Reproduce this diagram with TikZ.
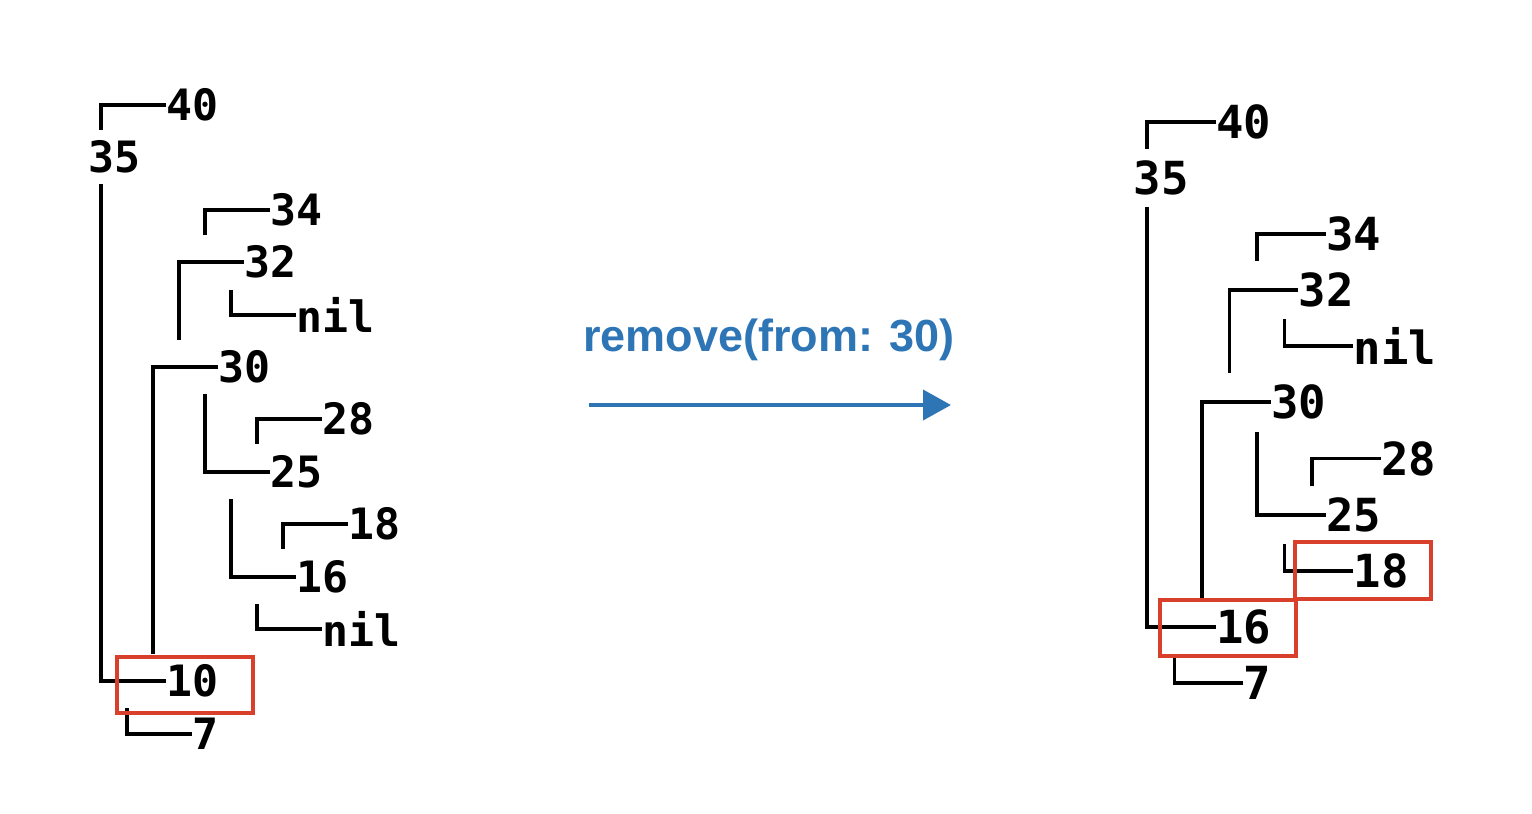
\documentclass[tikz,border=0pt]{standalone}
\usepackage{fontspec}
\setmonofont{DejaVu Sans Mono}
\setsansfont{Liberation Sans}
\usetikzlibrary{arrows.meta}
\definecolor{blu}{RGB}{46,117,182}
\definecolor{rosso}{RGB}{217,64,43}
\begin{document}
\begin{tikzpicture}[x=0.5pt, y=-0.5pt,
  chiave/.style={anchor=west, inner sep=0pt, font=\ttfamily\bfseries\fontsize{21.6}{24}\selectfont},
  chiaveb/.style={anchor=west, inner sep=0pt, font=\ttfamily\bfseries\fontsize{22.8}{26}\selectfont},
  ramo/.style={line width=1.8pt},
  evidenzia/.style={draw=rosso, line width=2.4pt}]
\useasboundingbox (0,0) rectangle (1532,814);
% albero prima
\node[chiave] (a40) at (166,105) {40};
\node[chiave] (a35) at (88,157) {35};
\node[chiave] (a34) at (270,210) {34};
\node[chiave] (a32) at (244,262) {32};
\node[chiave] (anil1) at (296,315) {nil};
\node[chiave] (a30) at (218,367) {30};
\node[chiave] (a28) at (322,419) {28};
\node[chiave] (a25) at (270,472) {25};
\node[chiave] (a18) at (348,524) {18};
\node[chiave] (a16) at (296,577) {16};
\node[chiave] (anil2) at (322,629) {nil};
\node[chiave] (a10) at (166,681) {10};
\node[chiave] (a7) at (192,734) {7};
% rami prima
\coordinate (ta40) at (101,130);
\coordinate (ta34) at (205,235);
\coordinate (ta32) at (179,340);
\coordinate (tanil1) at (231,290);
\coordinate (ta30) at (153,654);
\coordinate (ta28) at (257,444);
\coordinate (ta25) at (205,394);
\coordinate (ta18) at (283,549);
\coordinate (ta16) at (231,499);
\coordinate (tanil2) at (257,604);
\coordinate (ta10) at (101,184);
\coordinate (ta7) at (127,708);
\draw[ramo] (a40.west) -| (ta40);
\draw[ramo] (a34.west) -| (ta34);
\draw[ramo] (a32.west) -| (ta32);
\draw[ramo] (anil1.west) -| (tanil1);
\draw[ramo] (a30.west) -| (ta30);
\draw[ramo] (a28.west) -| (ta28);
\draw[ramo] (a25.west) -| (ta25);
\draw[ramo] (a18.west) -| (ta18);
\draw[ramo] (a16.west) -| (ta16);
\draw[ramo] (anil2.west) -| (tanil2);
\draw[ramo] (a10.west) -| (ta10);
\draw[ramo] (a7.west) -| (ta7);
\draw[evidenzia] (117,657) rectangle (253,713);
% operazione
\node[font=\sffamily\bfseries\fontsize{22.5}{27}\selectfont, text=blu] (op) at (769,340) {remove(from: 30)};
\coordinate (f0) at (589,405);
\coordinate (f1) at (951,405);
\draw[-{Triangle[length=14pt,width=15pt]}, blu, line width=2pt] (f0) -- (f1);
% albero dopo
\node[chiaveb] (b40) at (1215.75,122) {40};
\node[chiaveb] (b35) at (1133.25,178) {35};
\node[chiaveb] (b34) at (1325.75,234) {34};
\node[chiaveb] (b32) at (1298.25,290) {32};
\node[chiaveb] (bnil) at (1353.25,346) {nil};
\node[chiaveb] (b30) at (1270.75,402) {30};
\node[chiaveb] (b28) at (1380.75,458.6) {28};
\node[chiaveb] (b25) at (1325.75,515) {25};
\node[chiaveb] (b18) at (1353.25,571) {18};
\node[chiaveb] (b16) at (1215.75,627) {16};
\node[chiaveb] (b7) at (1243.25,683) {7};
% rami dopo
\coordinate (tb40) at (1147,149);
\coordinate (tb34) at (1257,261);
\coordinate (tb32) at (1229.5,373);
\coordinate (tbnil) at (1284.5,319);
\coordinate (tb30) at (1202,598);
\coordinate (tb28) at (1312,486);
\coordinate (tb25) at (1257,431.6);
\coordinate (tb18) at (1284.5,544);
\coordinate (tb16) at (1147,207);
\coordinate (tb7) at (1174.5,656);
\draw[ramo] (b40.west) -| (tb40);
\draw[ramo] (b34.west) -| (tb34);
\draw[ramo] (b32.west) -| (tb32);
\draw[ramo] (bnil.west) -| (tbnil);
\draw[ramo] (b30.west) -| (tb30);
\draw[ramo] (b28.west) -| (tb28);
\draw[ramo] (b25.west) -| (tb25);
\draw[ramo] (b18.west) -| (tb18);
\draw[ramo] (b16.west) -| (tb16);
\draw[ramo] (b7.west) -| (tb7);
\draw[evidenzia] (1160,600) rectangle (1296,656);
\draw[evidenzia] (1295,542) rectangle (1431,599);
\end{tikzpicture}
\end{document}
